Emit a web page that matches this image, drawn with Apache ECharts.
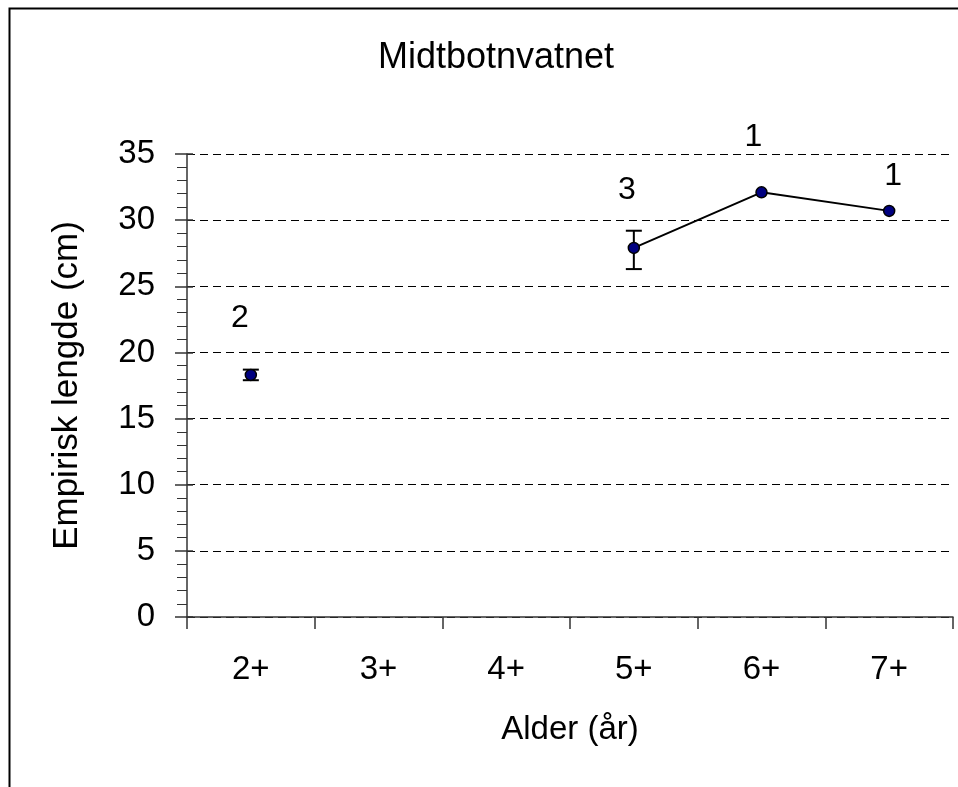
<!DOCTYPE html>
<html>
<head>
<meta charset="utf-8">
<script src="https://cdn.jsdelivr.net/npm/echarts@6/dist/echarts.min.js"></script>
<style>
html,body{margin:0;padding:0;background:#fff;}
#chart{width:958px;height:787px;}
</style>
</head>
<body>
<div id="chart"></div>
<script>
const categories = ['2+', '3+', '4+', '5+', '6+', '7+'];
const meanLength = [18.3, null, null, 27.9, 32.1, 30.7];
const errLow = [17.9, null, null, 26.3, null, null];
const errHigh = [18.7, null, null, 29.2, null, null];
const sampleCount = ['2', null, null, '3', '1', '1'];
const yTicks = [0, 5, 10, 15, 20, 25, 30, 35];

// label styling offsets (pixels), not data
const labelOffsets = [[-11, -57], null, null, [-7, -58], [-8, -55], [4, -35]];

const FONT = 'Liberation Sans, Arial, sans-serif';
const chart = echarts.init(document.getElementById('chart'));

const errData = [];
categories.forEach((c, i) => {
  if (errLow[i] != null) errData.push([i, errLow[i], errHigh[i]]);
});
const labelData = [];
categories.forEach((c, i) => {
  if (sampleCount[i] != null) {
    labelData.push({
      value: [i, meanLength[i]],
      label: { formatter: sampleCount[i], offset: labelOffsets[i] }
    });
  }
});

const option = {
  animation: false,
  backgroundColor: '#fff',
  title: {
    text: 'Midtbotnvatnet',
    left: 491, top: 35, textAlign: 'center',
    textStyle: { fontFamily: FONT, fontSize: 36, fontWeight: 'normal', color: '#000' }
  },
  graphic: [{
    type: 'rect', left: 7, top: 6, silent: true,
    shape: { x: 0, y: 0, width: 1000, height: 1000 },
    style: { fill: 'none', stroke: '#000', lineWidth: 2 }
  }],
  grid: { left: 187, right: 5, top: 154, bottom: 170, containLabel: false },
  xAxis: {
    type: 'category',
    data: categories,
    boundaryGap: true,
    name: 'Alder (år)',
    nameLocation: 'middle',
    nameGap: 96,
    nameTextStyle: { fontFamily: FONT, fontSize: 33, color: '#000' },
    axisLine: { lineStyle: { color: '#333', width: 1.5 } },
    axisTick: { show: true, length: 12, inside: false, alignWithLabel: false, lineStyle: { color: '#333', width: 1.5 } },
    axisLabel: { fontFamily: FONT, fontSize: 33, color: '#000', margin: 36 },
    splitLine: { show: false }
  },
  yAxis: [{
    type: 'value',
    min: 0, max: 35, interval: 5,
    name: 'Empirisk lengde (cm)',
    nameLocation: 'middle',
    nameGap: 102,
    nameTextStyle: { fontFamily: FONT, fontSize: 35, color: '#000' },
    axisLine: { show: true, lineStyle: { color: '#333', width: 1.5 } },
    axisTick: { show: true, length: 12, lineStyle: { color: '#333', width: 1.5 } },
    minorTick: { show: true, splitNumber: 5, length: 10, lineStyle: { color: '#333', width: 1 } },
    axisLabel: {
      fontFamily: FONT, fontSize: 33, color: '#000', margin: 32,
      formatter: v => (yTicks.indexOf(v) >= 0 ? String(v) : '')
    },
    splitLine: { show: true, lineStyle: { color: '#000', type: [8, 5], width: 1 } },
    minorSplitLine: { show: false }
  }, {
    type: 'value',
    min: 0, max: 35, interval: 5,
    position: 'left',
    axisLine: { show: false },
    axisTick: { show: true, inside: true, length: 6, lineStyle: { color: '#333', width: 1.5 } },
    axisLabel: { show: false },
    splitLine: { show: false }
  }],
  series: [
    {
      type: 'custom',
      z: 3,
      renderItem: function (params, api) {
        const x = api.value(0);
        const lo = api.coord([x, api.value(1)]);
        const hi = api.coord([x, api.value(2)]);
        const hw = 8;
        const st = { stroke: '#000', lineWidth: 2 };
        return {
          type: 'group',
          children: [
            { type: 'line', shape: { x1: lo[0], y1: lo[1], x2: hi[0], y2: hi[1] }, style: st },
            { type: 'line', shape: { x1: lo[0] - hw, y1: lo[1], x2: lo[0] + hw, y2: lo[1] }, style: st },
            { type: 'line', shape: { x1: hi[0] - hw, y1: hi[1], x2: hi[0] + hw, y2: hi[1] }, style: st }
          ]
        };
      },
      encode: { x: 0, y: [1, 2] },
      data: errData
    },
    {
      type: 'line',
      z: 4,
      data: meanLength,
      connectNulls: false,
      showSymbol: true,
      symbol: 'circle',
      symbolSize: [11, 11],
      lineStyle: { color: '#000', width: 2 },
      itemStyle: { color: '#000080', borderColor: '#000', borderWidth: 1.5 }
    },
    {
      type: 'scatter',
      z: 5,
      symbolSize: 1,
      silent: true,
      itemStyle: { opacity: 1, color: 'rgba(0,0,0,0)' },
      label: {
        show: true, position: 'inside', opacity: 1,
        fontFamily: FONT, fontSize: 32, color: '#000',
        textBorderWidth: 0, textBorderColor: 'transparent'
      },
      data: labelData
    }
  ]
};
chart.setOption(option);
</script>
</body>
</html>
